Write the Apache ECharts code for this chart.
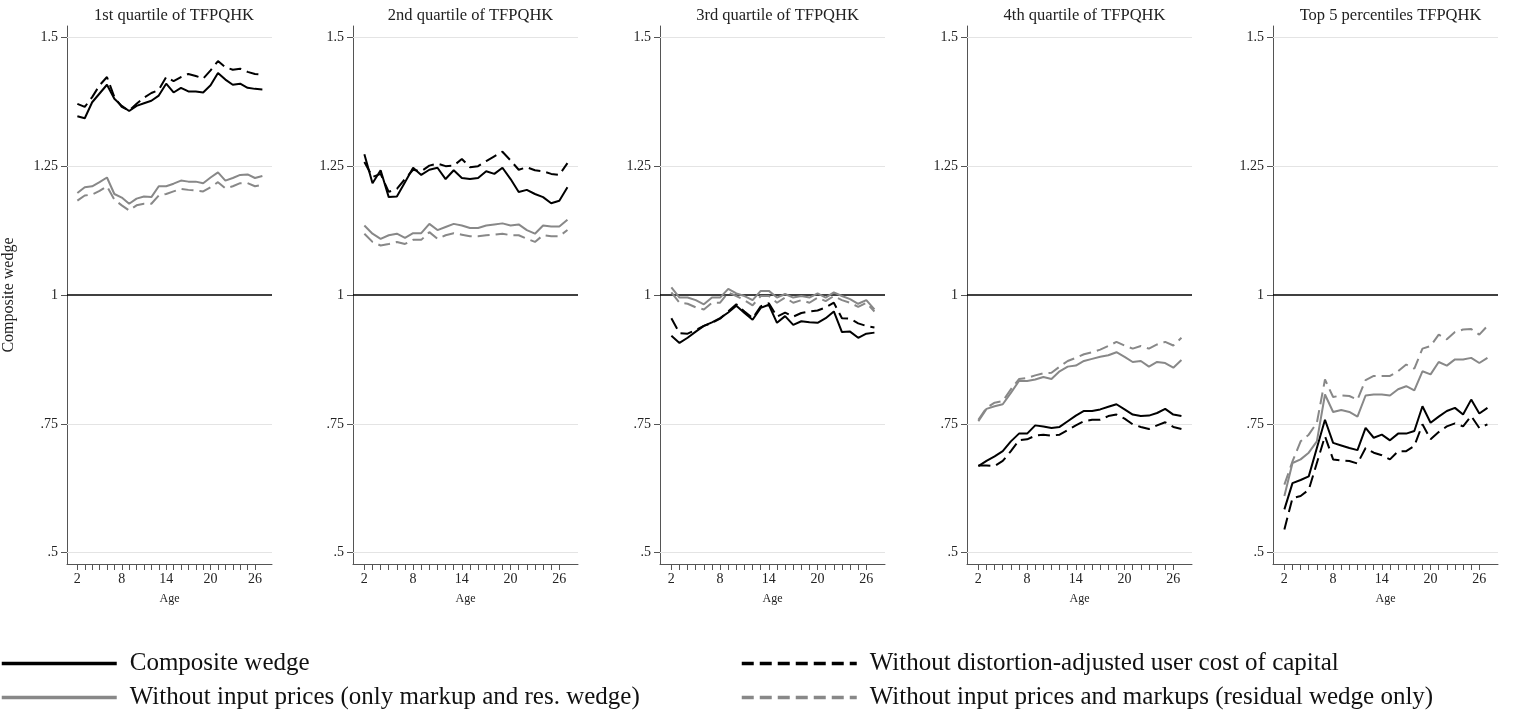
<!DOCTYPE html>
<html>
<head>
<meta charset="utf-8">
<script src="https://cdn.jsdelivr.net/npm/echarts@6/dist/echarts.min.js"></script>
<style>
    html, body { margin: 0; padding: 0; background: #fff; }
    #chart { width: 1515px; height: 717px; }
</style>
</head>
<body>
<div id="chart"></div>
<script>
var ages = [2, 3, 4, 5, 6, 7, 8, 9, 10, 11, 12, 13, 14, 15, 16, 17, 18, 19, 20, 21, 22, 23, 24, 25, 26, 27];
var xTickAges = [2, 3, 4, 5, 6, 7, 8, 9, 10, 11, 12, 13, 14, 15, 16, 17, 18, 19, 20, 21, 22, 23, 24, 25, 26];
var xLabelAges = [2, 8, 14, 20, 26];
var yTicks = [0.5, 0.75, 1, 1.25, 1.5];
var panelTitles = ['1st quartile of TFPQHK', '2nd quartile of TFPQHK', '3rd quartile of TFPQHK', '4th quartile of TFPQHK', 'Top 5 percentiles TFPQHK'];
var seriesNames = [
    'Composite wedge',
    'Without distortion-adjusted user cost of capital',
    'Without input prices (only markup and res. wedge)',
    'Without input prices and markups (residual wedge only)'
];

// 1st quartile
var q1Composite = [1.347, 1.343, 1.374, 1.391, 1.408, 1.381, 1.367, 1.357, 1.367, 1.372, 1.377, 1.387, 1.410, 1.393, 1.402, 1.395, 1.395, 1.393, 1.407, 1.431, 1.418, 1.408, 1.410, 1.402, 1.400, 1.399];
var q1NoUserCost = [1.371, 1.365, 1.384, 1.407, 1.423, 1.384, 1.365, 1.358, 1.371, 1.383, 1.392, 1.398, 1.423, 1.415, 1.423, 1.429, 1.425, 1.420, 1.436, 1.454, 1.442, 1.437, 1.439, 1.433, 1.429, 1.428];
var q1NoInputPrices = [1.198, 1.209, 1.211, 1.219, 1.228, 1.196, 1.189, 1.177, 1.187, 1.191, 1.190, 1.211, 1.211, 1.216, 1.222, 1.220, 1.220, 1.217, 1.228, 1.238, 1.222, 1.227, 1.233, 1.234, 1.227, 1.231];
var q1Residual = [1.183, 1.193, 1.195, 1.202, 1.211, 1.185, 1.174, 1.164, 1.174, 1.177, 1.177, 1.193, 1.196, 1.201, 1.206, 1.204, 1.203, 1.201, 1.209, 1.219, 1.207, 1.211, 1.217, 1.217, 1.211, 1.214];

// 2nd quartile
var q2Composite = [1.273, 1.217, 1.242, 1.190, 1.191, 1.219, 1.247, 1.233, 1.243, 1.247, 1.225, 1.242, 1.227, 1.225, 1.227, 1.240, 1.235, 1.247, 1.225, 1.200, 1.204, 1.196, 1.190, 1.178, 1.183, 1.209];
var q2NoUserCost = [1.258, 1.229, 1.235, 1.200, 1.206, 1.225, 1.243, 1.240, 1.251, 1.255, 1.250, 1.251, 1.264, 1.248, 1.250, 1.260, 1.269, 1.278, 1.261, 1.243, 1.248, 1.242, 1.240, 1.235, 1.233, 1.256];
var q2NoInputPrices = [1.135, 1.119, 1.109, 1.116, 1.119, 1.111, 1.120, 1.120, 1.138, 1.126, 1.132, 1.138, 1.135, 1.130, 1.130, 1.135, 1.137, 1.139, 1.135, 1.137, 1.126, 1.119, 1.135, 1.133, 1.133, 1.146];
var q2Residual = [1.119, 1.103, 1.096, 1.099, 1.103, 1.099, 1.107, 1.107, 1.122, 1.109, 1.116, 1.120, 1.117, 1.114, 1.114, 1.116, 1.117, 1.119, 1.116, 1.116, 1.109, 1.103, 1.116, 1.114, 1.114, 1.126];

// 3rd quartile
var q3Composite = [0.921, 0.907, 0.917, 0.929, 0.940, 0.947, 0.955, 0.966, 0.979, 0.965, 0.952, 0.975, 0.981, 0.946, 0.959, 0.942, 0.949, 0.947, 0.946, 0.955, 0.968, 0.928, 0.929, 0.917, 0.925, 0.927];
var q3NoUserCost = [0.955, 0.926, 0.925, 0.932, 0.940, 0.946, 0.954, 0.968, 0.982, 0.968, 0.955, 0.978, 0.984, 0.958, 0.966, 0.958, 0.965, 0.968, 0.970, 0.976, 0.985, 0.955, 0.954, 0.945, 0.940, 0.937];
var q3NoInputPrices = [1.015, 0.995, 0.995, 0.990, 0.982, 0.995, 0.995, 1.012, 1.003, 0.998, 0.990, 1.008, 1.008, 0.995, 1.002, 0.995, 0.998, 0.995, 1.003, 0.995, 1.005, 0.998, 0.992, 0.983, 0.990, 0.972];
var q3Residual = [1.005, 0.985, 0.983, 0.976, 0.972, 0.985, 0.985, 1.005, 0.998, 0.990, 0.980, 0.998, 0.998, 0.985, 0.995, 0.985, 0.990, 0.985, 0.995, 0.988, 0.998, 0.990, 0.985, 0.977, 0.985, 0.968];

// 4th quartile
var q4Composite = [0.668, 0.678, 0.687, 0.697, 0.716, 0.731, 0.731, 0.747, 0.745, 0.742, 0.744, 0.755, 0.766, 0.775, 0.775, 0.778, 0.783, 0.788, 0.778, 0.768, 0.765, 0.766, 0.771, 0.779, 0.768, 0.765];
var q4NoUserCost = [0.669, 0.669, 0.668, 0.678, 0.697, 0.718, 0.720, 0.727, 0.729, 0.727, 0.729, 0.738, 0.747, 0.755, 0.758, 0.758, 0.765, 0.768, 0.760, 0.749, 0.744, 0.740, 0.747, 0.753, 0.744, 0.740];
var q4NoInputPrices = [0.755, 0.779, 0.784, 0.788, 0.810, 0.833, 0.833, 0.836, 0.841, 0.837, 0.852, 0.861, 0.863, 0.872, 0.876, 0.880, 0.883, 0.889, 0.880, 0.870, 0.872, 0.861, 0.870, 0.868, 0.859, 0.874];
var q4Residual = [0.758, 0.781, 0.791, 0.794, 0.817, 0.837, 0.839, 0.844, 0.848, 0.849, 0.861, 0.872, 0.878, 0.885, 0.889, 0.894, 0.901, 0.909, 0.902, 0.896, 0.901, 0.896, 0.904, 0.909, 0.902, 0.917];

// top 5 percentiles
var top5Composite = [0.584, 0.635, 0.641, 0.648, 0.703, 0.758, 0.713, 0.708, 0.703, 0.699, 0.742, 0.723, 0.729, 0.718, 0.731, 0.731, 0.736, 0.784, 0.752, 0.764, 0.775, 0.781, 0.768, 0.797, 0.770, 0.781];
var top5NoUserCost = [0.545, 0.606, 0.610, 0.622, 0.674, 0.726, 0.681, 0.679, 0.678, 0.673, 0.703, 0.694, 0.689, 0.681, 0.697, 0.697, 0.707, 0.749, 0.720, 0.734, 0.745, 0.751, 0.745, 0.765, 0.742, 0.749];
var top5NoInputPrices = [0.610, 0.674, 0.681, 0.694, 0.716, 0.807, 0.773, 0.777, 0.773, 0.764, 0.805, 0.807, 0.807, 0.805, 0.817, 0.823, 0.815, 0.852, 0.846, 0.870, 0.863, 0.875, 0.875, 0.878, 0.868, 0.878];
var top5Residual = [0.632, 0.677, 0.716, 0.729, 0.752, 0.836, 0.802, 0.805, 0.804, 0.797, 0.835, 0.843, 0.843, 0.843, 0.852, 0.865, 0.857, 0.896, 0.901, 0.923, 0.914, 0.928, 0.933, 0.934, 0.923, 0.940];

var panels = [
    [q1Composite, q1NoUserCost, q1NoInputPrices, q1Residual],
    [q2Composite, q2NoUserCost, q2NoInputPrices, q2Residual],
    [q3Composite, q3NoUserCost, q3NoInputPrices, q3Residual],
    [q4Composite, q4NoUserCost, q4NoInputPrices, q4Residual],
    [top5Composite, top5NoUserCost, top5NoInputPrices, top5Residual]
];

var font = 'Liberation Serif';
var gridLeft = [66, 353, 660, 967, 1273];
var gridWidth = [206, 225, 225, 225, 225];
var lineStyles = [
    { color: '#000', width: 2, type: 'solid' },
    { color: '#000', width: 2, type: [12, 6] },
    { color: '#888', width: 2, type: 'solid' },
    { color: '#888', width: 2, type: [12, 6] }
];

var myChart = echarts.init(document.getElementById('chart'));

var grids = [], xAxes = [], yAxes = [], titles = [], series = [];
panels.forEach(function (panel, p) {
    grids.push({ left: gridLeft[p], width: gridWidth[p], top: 26, height: 538 });
    titles.push({
        text: panelTitles[p],
        left: gridLeft[p] + gridWidth[p] / 2,
        top: 2,
        textAlign: 'center',
        textStyle: { fontFamily: font, fontSize: 16.5, fontWeight: 'normal', color: '#222' }
    });
    xAxes.push({
        type: 'value',
        gridIndex: p,
        min: 0.6,
        max: 28.3,
        name: 'Age',
        nameLocation: 'middle',
        nameGap: 29,
        nameTextStyle: { fontFamily: font, fontSize: 12, color: '#222' },
        axisLine: { lineStyle: { color: '#555', width: 1 } },
        axisTick: { length: 6, customValues: xTickAges, lineStyle: { color: '#555' } },
        axisLabel: { customValues: xLabelAges, margin: 8, fontFamily: font, fontSize: 14, color: '#222' },
        splitLine: { show: false }
    });
    yAxes.push({
        type: 'value',
        gridIndex: p,
        min: 0.478,
        max: 1.522,
        name: p === 0 ? 'Composite wedge' : '',
        nameLocation: 'middle',
        nameRotate: 90,
        nameGap: 50,
        nameTextStyle: { fontFamily: font, fontSize: 16, color: '#222' },
        axisLine: { show: true, lineStyle: { color: '#555', width: 1 } },
        axisTick: { show: true, length: 6, customValues: yTicks, lineStyle: { color: '#555' } },
        axisLabel: {
            customValues: yTicks,
            margin: 9,
            fontFamily: font,
            fontSize: 14,
            color: '#222',
            formatter: function (v) { return String(v).replace(/^0\./, '.'); }
        },
        splitLine: { show: false }
    });
    panel.forEach(function (vals, s) {
        var item = {
            name: seriesNames[s],
            type: 'line',
            xAxisIndex: p,
            yAxisIndex: p,
            data: ages.map(function (a, i) { return [a, vals[i]]; }),
            symbol: 'none',
            silent: true,
            animation: false,
            lineStyle: lineStyles[s],
            itemStyle: { color: lineStyles[s].color }
        };
        if (s === 0) {
            // grid lines and the reference line at 1
            item.markLine = {
                silent: true,
                symbol: 'none',
                z: 1,
                animation: false,
                label: { show: false },
                data: [
                    { yAxis: 0.5, lineStyle: { color: '#e4e4e4', width: 1, type: 'solid' } },
                    { yAxis: 0.75, lineStyle: { color: '#e4e4e4', width: 1, type: 'solid' } },
                    { yAxis: 1.25, lineStyle: { color: '#e4e4e4', width: 1, type: 'solid' } },
                    { yAxis: 1.5, lineStyle: { color: '#e4e4e4', width: 1, type: 'solid' } },
                    { yAxis: 1, lineStyle: { color: '#000', width: 1.5, type: 'solid' } }
                ]
            };
        }
        series.push(item);
    });
});

var legendBase = {
    orient: 'vertical',
    top: 651,
    padding: 0,
    itemWidth: 115,
    itemHeight: 14,
    itemGap: 9,
    selectedMode: false,
    itemStyle: { opacity: 0 },
    lineStyle: { width: 3.5 },
    textStyle: { fontFamily: font, fontSize: 25, color: '#111', padding: [0, 0, 0, 8] }
};

myChart.setOption({
    backgroundColor: '#fff',
    animation: false,
    title: titles,
    legend: [
        Object.assign({}, legendBase, { left: 0, data: [seriesNames[0], seriesNames[2]] }),
        Object.assign({}, legendBase, { left: 740, data: [seriesNames[1], seriesNames[3]] })
    ],
    grid: grids,
    xAxis: xAxes,
    yAxis: yAxes,
    series: series
});
window.addEventListener('resize', function () {
    myChart.resize();
});
</script>
</body>
</html>
